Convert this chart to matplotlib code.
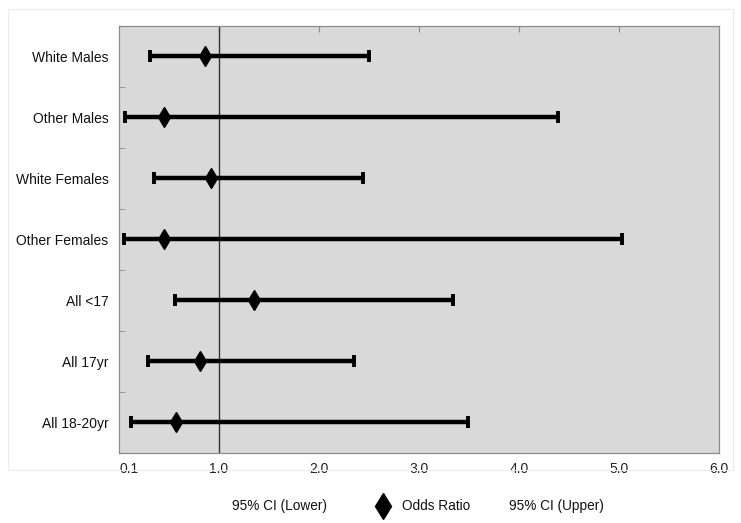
import matplotlib
matplotlib.use("Agg")
import matplotlib.pyplot as plt
from matplotlib.lines import Line2D
from matplotlib.patches import Rectangle

plt.rcParams['font.family'] = ['Liberation Sans', 'DejaVu Sans']

categories = ["White Males", "Other Males", "White Females", "Other Females",
              "All <17", "All 17yr", "All 18-20yr"]
odds_ratio = [0.86, 0.45, 0.92, 0.45, 1.35, 0.81, 0.57]
ci_lower = [0.31, 0.06, 0.35, 0.05, 0.56, 0.29, 0.12]
ci_upper = [2.50, 4.39, 2.44, 5.03, 3.34, 2.35, 3.49]
xticks = [0.1, 1.0, 2.0, 3.0, 4.0, 5.0, 6.0]
xticklabels = ["0.1", "1.0", "2.0", "3.0", "4.0", "5.0", "6.0"]

W, H = 741, 523
fig = plt.figure(figsize=(W / 100, H / 100), dpi=100)
fig.patch.set_facecolor("white")

# outer faint border
fig.add_artist(Rectangle((8 / W, 1 - 470 / H), (733 - 8) / W, (470 - 9) / H,
                         transform=fig.transFigure, fill=False,
                         edgecolor="#ececec", linewidth=0.8))

ax = fig.add_axes([119 / W, 1 - 452.5 / H, (719 - 119) / W, (452.5 - 26) / H])
ax.set_facecolor("#d9d9d9")
for s in ax.spines.values():
    s.set_color("#8c8c8c")
    s.set_linewidth(0.9)

ypos = list(range(len(categories)))
ax.axvline(1.0, color="#333333", linewidth=1.0, zorder=1)

for i in ypos:
    ax.errorbar([odds_ratio[i]], [i],
                xerr=[[odds_ratio[i] - ci_lower[i]], [ci_upper[i] - odds_ratio[i]]],
                fmt="none", ecolor="black", elinewidth=3.2, capsize=4.5,
                capthick=2.8, zorder=2)
ax.plot(odds_ratio, ypos, linestyle="none", marker="d", markersize=10.5,
        color="black", zorder=3)

ax.set_xlim(0, 6)
ax.set_ylim(len(categories) - 0.5, -0.5)
ax.set_xticks(xticks)
ax.set_xticklabels(xticklabels)
ax.tick_params(axis="x", which="both", bottom=False, top=False,
               labelsize=10, labelcolor="#222222", pad=3)
ax.set_yticks(ypos)
ax.set_yticklabels(categories)
ax.tick_params(axis="y", which="major", left=False, labelsize=10,
               labelcolor="#111111", pad=4)
ax.set_yticks([i + 0.5 for i in ypos[:-1]], minor=True)
ax.tick_params(axis="y", which="minor", left=True, direction="in",
               length=4, color="#8c8c8c")
sec = ax.secondary_xaxis("top")
sec.set_xticks([1, 2, 3, 4, 5])
sec.set_xticklabels([])
sec.tick_params(direction="in", length=4, color="#8c8c8c")
sec.spines["top"].set_visible(False)

# legend row
ly = 1 - 506 / H
fig.text(280 / W, ly, "95% CI (Lower)", ha="center", va="center",
         fontsize=9.8, color="#111111")
fig.add_artist(Line2D([383 / W], [ly], transform=fig.transFigure,
                      marker="d", markersize=13, color="black", linestyle="none"))
fig.text(402 / W, ly, "Odds Ratio", ha="left", va="center",
         fontsize=9.8, color="#111111")
fig.text(556 / W, ly, "95% CI (Upper)", ha="center", va="center",
         fontsize=9.8, color="#111111")

fig.savefig("out.png", dpi=100, facecolor="white")
